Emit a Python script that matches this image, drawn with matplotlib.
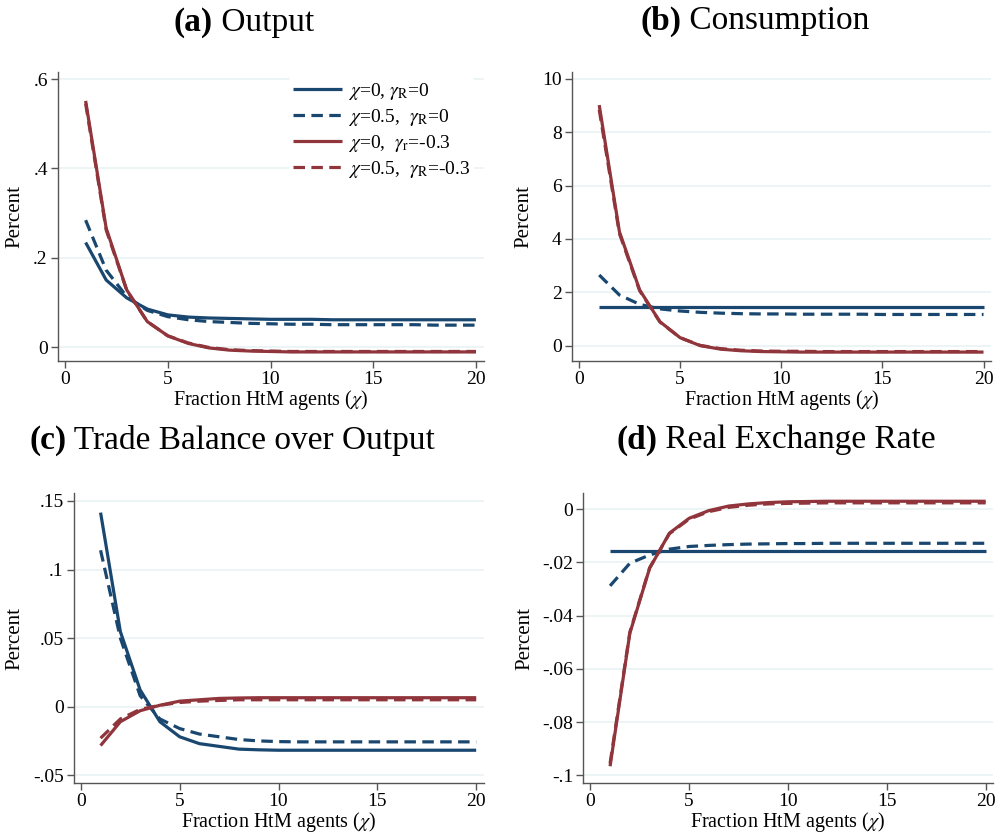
import numpy as np
import matplotlib
matplotlib.use('Agg')
import matplotlib.pyplot as plt

plt.rcParams['font.family'] = ['Liberation Serif', 'DejaVu Serif']
plt.rcParams['mathtext.fontset'] = 'stix'

# share of hand-to-mouth agents
chi = list(range(1, 21))

# (a) Output
out_base = [0.234, 0.150, 0.110, 0.085, 0.072, 0.067, 0.065, 0.064, 0.063, 0.062,
            0.062, 0.062, 0.061, 0.061, 0.061, 0.061, 0.061, 0.061, 0.061, 0.061]
out_chi = [0.284, 0.172, 0.113, 0.082, 0.068, 0.061, 0.057, 0.055, 0.053, 0.052,
           0.051, 0.051, 0.050, 0.050, 0.050, 0.050, 0.050, 0.049, 0.049, 0.049]
out_gr = [0.551, 0.266, 0.128, 0.057, 0.025, 0.008, -0.002, -0.007, -0.009, -0.010,
          -0.011, -0.011, -0.011, -0.011, -0.011, -0.011, -0.011, -0.011, -0.011, -0.011]
out_both = [0.545, 0.262, 0.127, 0.057, 0.025, 0.009, -0.001, -0.006, -0.008, -0.009,
            -0.010, -0.010, -0.010, -0.010, -0.010, -0.010, -0.010, -0.010, -0.010, -0.010]

# (b) Consumption
cons_base = [1.46] * 20
cons_chi = [2.65, 1.90, 1.55, 1.38, 1.30, 1.25, 1.22, 1.20, 1.19, 1.19,
             1.18, 1.18, 1.18, 1.18, 1.17, 1.17, 1.17, 1.17, 1.17, 1.17]
cons_gr = [9.02, 4.27, 2.09, 0.90, 0.30, 0.00, -0.13, -0.19, -0.22, -0.23,
           -0.24, -0.24, -0.24, -0.24, -0.24, -0.24, -0.24, -0.24, -0.24, -0.24]
cons_both = [8.85, 4.20, 2.06, 0.89, 0.30, 0.01, -0.11, -0.17, -0.20, -0.21,
             -0.21, -0.22, -0.22, -0.22, -0.22, -0.22, -0.22, -0.22, -0.22, -0.22]

# (c) Trade balance over output
tb_base = [0.1415, 0.0547, 0.0122, -0.011, -0.022, -0.027, -0.029, -0.031, -0.0315, -0.0318,
           -0.0318, -0.0318, -0.0318, -0.0318, -0.0318, -0.0318, -0.0318, -0.0318, -0.0318, -0.0318]
tb_chi = [0.114, 0.050, 0.008, -0.009, -0.016, -0.020, -0.022, -0.024, -0.025, -0.0255,
          -0.0257, -0.0257, -0.0257, -0.0257, -0.0257, -0.0257, -0.0257, -0.0257, -0.0257, -0.0257]
tb_gr = [-0.0284, -0.011, -0.003, 0.001, 0.004, 0.005, 0.006, 0.0063, 0.0065, 0.0065,
         0.0065, 0.0065, 0.0065, 0.0065, 0.0065, 0.0065, 0.0065, 0.0065, 0.0065, 0.0065]
tb_both = [-0.023, -0.009, -0.002, 0.001, 0.003, 0.004, 0.0045, 0.005, 0.005, 0.005,
           0.005, 0.005, 0.005, 0.005, 0.005, 0.005, 0.005, 0.005, 0.005, 0.005]

# (d) Real exchange rate
rer_base = [-0.0157] * 20
rer_chi = [-0.0288, -0.0203, -0.0172, -0.0150, -0.0140, -0.0136, -0.0133, -0.0131, -0.0130, -0.0129,
           -0.0129, -0.0128, -0.0128, -0.0128, -0.0128, -0.0128, -0.0128, -0.0128, -0.0128, -0.0128]
rer_gr = [-0.0966, -0.0466, -0.0222, -0.0090, -0.0034, -0.0005, 0.0012, 0.0020, 0.0025, 0.0028,
          0.0029, 0.0030, 0.0030, 0.0030, 0.0030, 0.0030, 0.0030, 0.0030, 0.0030, 0.0030]
rer_both = [-0.0955, -0.0462, -0.0220, -0.0092, -0.0037, -0.0009, 0.0007, 0.0015, 0.0020, 0.0022,
            0.0023, 0.0024, 0.0024, 0.0024, 0.0024, 0.0024, 0.0024, 0.0024, 0.0024, 0.0024]

labels = [r'$\chi$=0, $\gamma_{\mathrm{R}}$=0',
          r'$\chi$=0.5,  $\gamma_{\mathrm{R}}$=0',
          r'$\chi$=0,  $\gamma_{\mathrm{r}}$=-0.3',
          r'$\chi$=0.5,  $\gamma_{\mathrm{R}}$=-0.3']

navy = '#1a476f'
maroon = '#90353b'
dash = (0, (3.6, 2.0))
W, H = 996, 834

fig = plt.figure(figsize=(W / 100, H / 100), dpi=100)


def px_axes(left, right, top, bottom):
    return fig.add_axes([left / W, 1 - bottom / H, (right - left) / W, (bottom - top) / H])


def panel(ax, series, ylim, yticks, yticklabels):
    base, c, g, both = series
    ax.plot(chi, base, color=navy, lw=2.3, solid_capstyle='butt', label=labels[0])
    ax.plot(chi, c, color=navy, lw=2.3, ls=dash, label=labels[1])
    ax.plot(chi, g, color=maroon, lw=2.3, solid_capstyle='butt', label=labels[2])
    ax.plot(chi, both, color=maroon, lw=2.3, ls=dash, label=labels[3])
    ax.set_xlim(-0.37, 20.37)
    ax.set_ylim(*ylim)
    ax.set_xticks([0, 5, 10, 15, 20])
    ax.set_yticks(yticks)
    ax.set_yticklabels(yticklabels)
    ax.yaxis.grid(True, color='#eaf2f3', lw=1.2)
    ax.set_axisbelow(True)
    for s in ['top', 'right']:
        ax.spines[s].set_visible(False)
    for s in ['left', 'bottom']:
        ax.spines[s].set_color('#555555')
        ax.spines[s].set_linewidth(1.0)
    ax.tick_params(labelsize=14, color='#555555', length=5, width=1.0, pad=2)
    ax.set_xlabel('Fraction HtM agents ($\\chi$)', fontsize=14.5, labelpad=0)
    ax.set_ylabel('Percent', fontsize=15, labelpad=6)


ax_a = px_axes(57.5, 483.5, 72, 361)
panel(ax_a, (out_base, out_chi, out_gr, out_both), (-0.0313, 0.6157),
      [0, 0.2, 0.4, 0.6], ['0', '.2', '.4', '.6'])
ax_a.legend(loc='upper right', bbox_to_anchor=(1.0, 1.015), frameon=True, facecolor='white',
            edgecolor='none', framealpha=1, fontsize=14, handlelength=2.5,
            handletextpad=0.3, labelspacing=0.25, borderpad=0.2)

ax_b = px_axes(571.5, 991, 72, 361)
panel(ax_b, (cons_base, cons_chi, cons_gr, cons_both), (-0.574, 10.26),
      [0, 2, 4, 6, 8, 10], ['0', '2', '4', '6', '8', '10'])

ax_c = px_axes(73.5, 483.5, 493, 783)
panel(ax_c, (tb_base, tb_chi, tb_gr, tb_both), (-0.0557, 0.1558),
      [-0.05, 0, 0.05, 0.1, 0.15], ['-.05', '0', '.05', '.1', '.15'])

ax_d = px_axes(583, 993, 493, 783)
panel(ax_d, (rer_base, rer_chi, rer_gr, rer_both), (-0.1029, 0.0061),
      [-0.1, -0.08, -0.06, -0.04, -0.02, 0], ['-.1', '-.08', '-.06', '-.04', '-.02', '0'])

# panel titles: bold letter followed by regular name, centred as one line
renderer = fig.canvas.get_renderer()


def title(cx, cy, tag, name):
    t1 = fig.text(0, 1 - cy / H, tag, fontsize=24, fontweight='bold', va='center', ha='left')
    t2 = fig.text(0, 1 - cy / H, ' ' + name, fontsize=24, va='center', ha='left')
    w1 = t1.get_window_extent(renderer).width
    w2 = t2.get_window_extent(renderer).width
    x0 = cx - (w1 + w2) / 2
    t1.set_x(x0 / W)
    t2.set_x((x0 + w1) / W)


title(244, 23, '(a)', 'Output')
title(755, 21, '(b)', 'Consumption')
title(232, 440, '(c)', 'Trade Balance over Output')
title(776, 440, '(d)', 'Real Exchange Rate')

fig.savefig('out.png', dpi=100)
